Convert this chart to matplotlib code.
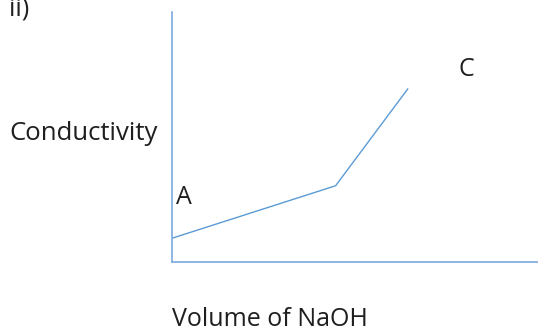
import matplotlib
matplotlib.use("Agg")
import matplotlib.pyplot as plt

# Conductometric titration sketch: conductivity vs volume of NaOH added
volume = [0.0, 4.47, 6.44]
conductivity = [0.95, 3.05, 6.92]

W, H = 538, 334
fig = plt.figure(figsize=(W / 100, H / 100), dpi=100)
plt.rcParams["font.family"] = ["Open Sans", "DejaVu Sans"]

ax = fig.add_axes([172 / W, (H - 262) / H, (W - 172) / W, (262 - 12) / H])
ax.plot(volume, conductivity, color="#5B9BD5", linewidth=1.0)
ax.set_xlim(0, 10)
ax.set_ylim(0, 10)
for side in ("top", "right"):
    ax.spines[side].set_visible(False)
for side in ("left", "bottom"):
    ax.spines[side].set_color("#7EA9DE")
    ax.spines[side].set_linewidth(1.2)
ax.set_xticks([])
ax.set_yticks([])
ax.patch.set_alpha(0)


def label(x, y, s, size=18):
    fig.text(x / W, 1 - y / H, s, fontsize=size, color="#1f1f1f",
             ha="left", va="baseline")


label(9, 15, "ii)")
label(9, 140, "Conductivity", 18.5)
label(176, 204, "A")
label(459, 76, "C")
label(172, 326, "Volume of NaOH")

fig.savefig("out.png", dpi=100)
